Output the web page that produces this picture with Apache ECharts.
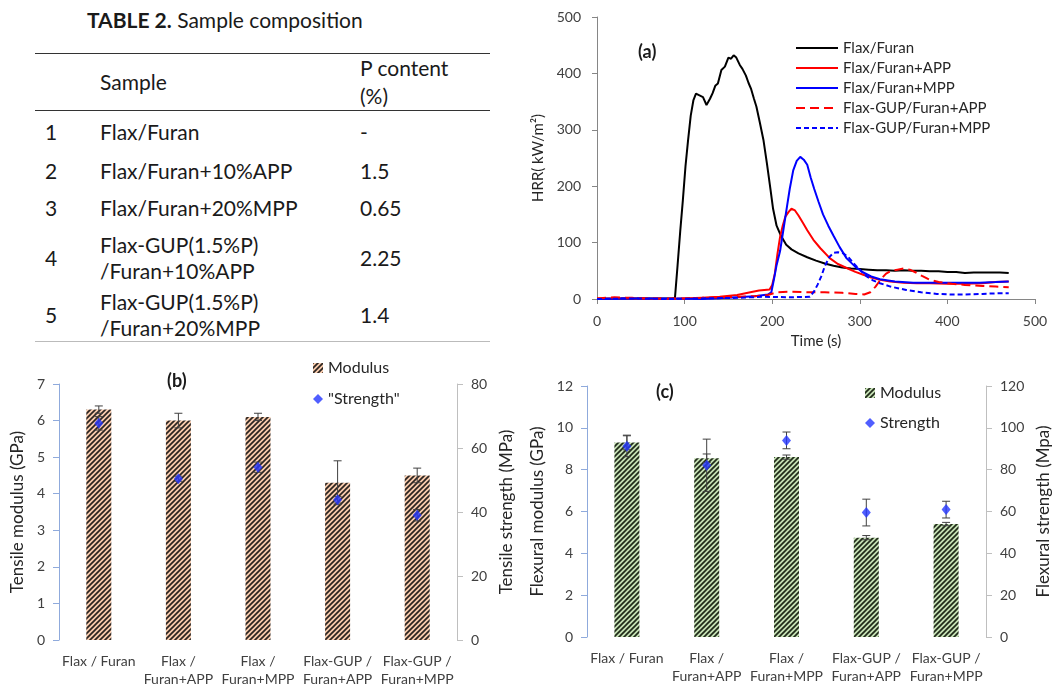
<!DOCTYPE html>
<html>

<head>
  <meta charset="utf-8">
  <title>Flax / Furan composites</title>
  <script src="https://cdn.jsdelivr.net/npm/echarts@6/dist/echarts.min.js"></script>
  <style>
    body { margin: 0; background: #fff; font-family: Lato, sans-serif; }
    .box { position: absolute; }
    #tableTitle { position: absolute; left: 87px; top: 7px; font-size: 21px; color: #1a1a1a; white-space: nowrap; }
    #comp { position: absolute; left: 35px; top: 53px; width: 455px; border-collapse: collapse; font-size: 21px; color: #1a1a1a; }
    #comp td { padding: 0; vertical-align: middle; line-height: 26px; white-space: pre; }
    #comp thead td { line-height: 28px; }
    #comp thead tr { border-top: 1.5px solid #333; border-bottom: 1.5px solid #333; }
    #comp tbody tr:last-child { border-bottom: 1px solid #bbb; }
  </style>
</head>

<body>
  <div class="box" style="left:0;top:0;width:500px;height:345px">
    <div id="tableTitle"><b>TABLE 2.</b> Sample composition</div>
    <table id="comp">
      <colgroup><col style="width:65px"><col style="width:260px"><col style="width:130px"></colgroup>
      <thead><tr style="height:57px"><td></td><td>Sample</td><td>P content<br>(%)</td></tr></thead>
      <tbody id="compBody"></tbody>
    </table>
  </div>
  <div id="a" class="box" style="left:520px;top:0;width:532px;height:350px"></div>
  <div id="b" class="box" style="left:0;top:355px;width:526px;height:329px"></div>
  <div id="c" class="box" style="left:526px;top:355px;width:526px;height:329px"></div>

  <script type="text/javascript">
    // ---- table 2 ----
    var tableNo = ['1', '2', '3', '4', '5'];
    var tableSample = ['Flax/Furan', 'Flax/Furan+10%APP', 'Flax/Furan+20%MPP',
      'Flax-GUP(1.5%P)\n/Furan+10%APP', 'Flax-GUP(1.5%P)\n/Furan+20%MPP'];
    var tablePContent = ['-', '1.5', '0.65', '2.25', '1.4'];

    // ---- (a) heat release rate curves ----
    var furanT = [0, 30, 60, 85, 89, 92, 95, 98, 101, 104, 107, 110, 113, 117, 121, 125, 129, 132, 135, 138, 142, 146, 150, 153, 156, 159, 163, 166, 170, 173, 176, 179, 182, 186, 190, 194, 198, 201, 205, 210, 216, 222, 230, 240, 250, 260, 270, 280, 290, 300, 310, 320, 330, 340, 350, 360, 370, 380, 390, 400, 410, 420, 430, 440, 450, 460, 470];
    var furanV = [0, 1, 1, 1, 2, 60, 120, 175, 235, 282, 325, 352, 364, 361, 358, 344, 355, 365, 378, 382, 406, 412, 428, 426, 432, 428, 415, 408, 396, 383, 372, 356, 341, 312, 282, 240, 195, 160, 130, 112, 96, 88, 81, 74, 68, 63, 59, 56, 54, 53, 52, 51, 51, 50, 51, 50, 50, 49, 49, 48, 48, 46, 47, 47, 47, 47, 46];

    var appT = [0, 40, 80, 120, 140, 160, 175, 185, 197, 200, 203, 206, 209, 212, 215, 219, 222, 226, 230, 235, 240, 247, 255, 266, 275, 285, 295, 304, 313, 323, 335, 350, 365, 380, 400, 420, 440, 455, 470];
    var appV = [1, 1, 0, 2, 4, 7, 12, 15, 17, 25, 45, 80, 110, 130, 146, 155, 160, 157, 148, 135, 122, 105, 90, 72, 62, 55, 48, 43, 38, 34, 31, 29, 28, 28, 27, 27, 28, 30, 31];

    var mppT = [0, 40, 80, 120, 150, 180, 195, 199, 202, 205, 209, 213, 217, 220, 224, 228, 232, 236, 240, 244, 248, 253, 258, 264, 270, 277, 285, 295, 304, 313, 323, 340, 361, 380, 400, 420, 437, 455, 470];
    var mppV = [0, 1, 1, 0, 2, 5, 8, 12, 35, 60, 85, 125, 165, 195, 228, 245, 252, 247, 238, 215, 195, 172, 150, 130, 112, 92, 72, 57, 47, 40, 35, 31, 29, 29, 29, 29, 29, 30, 31];

    var gupAppT = [0, 20, 40, 60, 80, 100, 120, 140, 160, 180, 195, 205, 220, 240, 260, 280, 295, 305, 312, 318, 324, 330, 336, 343, 350, 357, 364, 371, 380, 390, 405, 420, 440, 455, 470];
    var gupAppV = [1, 3, 2, 1, 1, 1, 2, 3, 4, 5, 7, 12, 13, 12, 12, 11, 9, 8, 12, 22, 35, 45, 50, 52, 54, 52, 47, 41, 34, 30, 27, 25, 23, 22, 21];

    var gupMppT = [0, 40, 80, 120, 160, 190, 220, 243, 248, 252, 256, 260, 265, 270, 275, 281, 287, 293, 300, 308, 315, 323, 335, 353, 370, 388, 405, 418, 440, 455, 470];
    var gupMppV = [0, 1, 0, 1, 2, 4, 3, 4, 14, 26, 40, 58, 74, 82, 83, 81, 74, 63, 52, 40, 33, 28, 22, 16, 12, 9, 8, 8, 9, 10, 10];

    // ---- (b) tensile, (c) flexural ----
    var categories = ['Flax / Furan', 'Flax /\nFuran+APP', 'Flax /\nFuran+MPP', 'Flax-GUP /\nFuran+APP', 'Flax-GUP /\nFuran+MPP'];
    var tensileModulus = [6.3, 6.0, 6.1, 4.3, 4.5];
    var tensileModulusErr = [0.1, 0.2, 0.1, 0.6, 0.2];
    var tensileStrength = [67.7, 50.4, 54.0, 43.8, 39.0];
    var tensileStrengthErr = [2.1, 0.8, 1.6, 1.0, 1.8];
    var flexModulus = [9.3, 8.55, 8.6, 4.75, 5.4];
    var flexModulusErr = [0.35, 0.2, 0.1, 0.1, 0.08];
    var flexStrength = [91.2, 82.1, 94.0, 59.5, 60.9];
    var flexStrengthErr = [5, 12.5, 4, 6.4, 4];

    // build table rows
    var rowHeights = [42, 36, 38, 62, 52];
    var body = document.getElementById('compBody');
    tableNo.forEach(function (n, i) {
      var tr = document.createElement('tr');
      tr.style.height = rowHeights[i] + 'px';
      [n, tableSample[i], tablePContent[i]].forEach(function (t, j) {
        var td = document.createElement('td');
        td.textContent = t;
        if (j === 0) td.style.paddingLeft = '10px';
        tr.appendChild(td);
      });
      body.appendChild(tr);
    });

    var FONT = 'Lato';
    var TICK = '#404040';
    var NAME = '#262626';

    function pairs(t, v) {
      return t.map(function (x, i) { return [x, v[i]]; });
    }

    function hatch(bg, fg) {
      var c = document.createElement('canvas');
      c.width = 5; c.height = 5;
      var g = c.getContext('2d');
      g.fillStyle = bg;
      g.fillRect(0, 0, 5, 5);
      g.strokeStyle = fg;
      g.lineWidth = 1.7;
      g.beginPath();
      g.moveTo(0, 5); g.lineTo(5, 0);
      g.moveTo(-1, 1); g.lineTo(1, -1);
      g.moveTo(4, 6); g.lineTo(6, 4);
      g.stroke();
      return { image: c, repeat: 'repeat' };
    }

    function errRender(params, api) {
      var i = api.value(0), v = api.value(1), e = api.value(2);
      var hi = api.coord([i, v + e]), lo = api.coord([i, v - e]);
      var st = { stroke: '#404040', lineWidth: 1 };
      return {
        type: 'group', children: [
          { type: 'line', shape: { x1: hi[0], y1: hi[1], x2: lo[0], y2: lo[1] }, style: st },
          { type: 'line', shape: { x1: hi[0] - 4, y1: hi[1], x2: hi[0] + 4, y2: hi[1] }, style: st },
          { type: 'line', shape: { x1: lo[0] - 4, y1: lo[1], x2: lo[0] + 4, y2: lo[1] }, style: st }
        ]
      };
    }

    function errData(vals, errs) {
      return vals.map(function (v, i) { return [i, v, errs[i]]; });
    }

    // ---------- chart (a) ----------
    var chartA = echarts.init(document.getElementById('a'));
    var axisA = { color: '#868686' };
    chartA.setOption({
      animation: false,
      textStyle: { fontFamily: FONT },
      title: { text: '(a)', left: 118, top: 43, padding: 0, textStyle: { fontSize: 18, fontWeight: 'bold', color: '#1a1a1a', fontFamily: FONT } },
      legend: {
        orient: 'vertical', left: 275, top: 40, padding: 0,
        itemWidth: 42, itemHeight: 10, itemGap: 4,
        itemStyle: { opacity: 0 },
        textStyle: { fontSize: 15, lineHeight: 16, color: NAME, fontFamily: FONT }
      },
      grid: { left: 77, top: 17, width: 438, height: 282, containLabel: false, outerBoundsMode: 'none' },
      xAxis: {
        type: 'value', min: 0, max: 500, interval: 100,
        name: 'Time (s)', nameLocation: 'middle', nameGap: 35,
        nameTextStyle: { fontSize: 15, color: NAME },
        axisLine: { lineStyle: axisA }, axisTick: { length: 5, lineStyle: axisA },
        axisLabel: { fontSize: 14, color: TICK, margin: 15 },
        splitLine: { show: false }
      },
      yAxis: {
        type: 'value', min: 0, max: 500, interval: 100,
        name: 'HRR( kW/m²)', nameLocation: 'middle', nameGap: 48,
        nameTextStyle: { fontSize: 15, color: NAME },
        axisLine: { show: true, lineStyle: axisA }, axisTick: { show: true, length: 5, lineStyle: axisA },
        axisLabel: { fontSize: 14, color: TICK, margin: 16 },
        splitLine: { show: false }
      },
      series: [
        { name: 'Flax/Furan', type: 'line', symbol: 'none', data: pairs(furanT, furanV), lineStyle: { color: '#000', width: 2 }, itemStyle: { color: '#000' } },
        { name: 'Flax/Furan+APP', type: 'line', symbol: 'none', data: pairs(appT, appV), lineStyle: { color: '#ff0000', width: 2 }, itemStyle: { color: '#ff0000' } },
        { name: 'Flax/Furan+MPP', type: 'line', symbol: 'none', data: pairs(mppT, mppV), lineStyle: { color: '#0000ff', width: 2 }, itemStyle: { color: '#0000ff' } },
        { name: 'Flax-GUP/Furan+APP', type: 'line', symbol: 'none', data: pairs(gupAppT, gupAppV), lineStyle: { color: '#ff0000', width: 2, type: [9, 5] }, itemStyle: { color: '#ff0000' } },
        { name: 'Flax-GUP/Furan+MPP', type: 'line', symbol: 'none', data: pairs(gupMppT, gupMppV), lineStyle: { color: '#0000ff', width: 2, type: [5, 3] }, itemStyle: { color: '#0000ff' } }
      ]
    });

    // ---------- bar panels (b) and (c) ----------
    function barPanel(el, cfg) {
      var chart = echarts.init(el);
      var blue = { color: '#8faadc' };
      var grey = { color: '#bfbfbf' };
      chart.setOption({
        animation: false,
        textStyle: { fontFamily: FONT },
        title: { text: cfg.title, left: cfg.titleLeft, top: cfg.titleTop, padding: 0, textStyle: { fontSize: 18, fontWeight: 'bold', color: '#1a1a1a', fontFamily: FONT } },
        legend: {
          orient: 'vertical', left: cfg.legendLeft, top: cfg.legendTop, padding: 0,
          itemWidth: 10, itemHeight: 10, itemGap: cfg.legendGap,
          textStyle: { fontSize: 16, lineHeight: 16, color: NAME, fontFamily: FONT },
          data: [{ name: 'Modulus', icon: 'rect' }, { name: cfg.strengthName, icon: 'diamond' }]
        },
        grid: cfg.grid,
        xAxis: {
          type: 'category', data: categories,
          axisLine: { show: false }, axisTick: { show: false },
          axisLabel: { interval: 0, fontSize: 14, lineHeight: 18, color: TICK, margin: 12, verticalAlign: 'top' }
        },
        yAxis: [{
          type: 'value', min: 0, max: cfg.leftMax, interval: cfg.leftStep,
          name: cfg.leftName, nameLocation: 'middle', nameGap: cfg.leftGap,
          nameTextStyle: { fontSize: 17, color: NAME },
          axisLine: { show: true, lineStyle: blue }, axisTick: { show: true, length: 6, lineStyle: blue },
          axisLabel: { fontSize: 14, color: TICK, margin: 14 },
          splitLine: { show: false }
        }, {
          type: 'value', min: 0, max: cfg.rightMax, interval: 20, position: 'right',
          name: cfg.rightName, nameLocation: 'middle', nameGap: cfg.rightGap,
          nameTextStyle: { fontSize: 17, color: NAME },
          axisLine: { show: true, lineStyle: grey }, axisTick: { show: true, length: 6, lineStyle: grey },
          axisLabel: { fontSize: 14, color: TICK, margin: 14 },
          splitLine: { show: false }
        }],
        series: [
          { name: 'Modulus', type: 'bar', barWidth: 25, data: cfg.modulus, itemStyle: { color: cfg.fill } },
          { type: 'custom', yAxisIndex: 0, renderItem: errRender, encode: { x: 0, y: 1 }, data: errData(cfg.modulus, cfg.modulusErr), z: 3 },
          { type: 'custom', yAxisIndex: 1, renderItem: errRender, encode: { x: 0, y: 1 }, data: errData(cfg.strength, cfg.strengthErr), z: 3 },
          { name: cfg.strengthName, type: 'scatter', yAxisIndex: 1, symbol: 'diamond', symbolSize: [9, 11], data: cfg.strength, itemStyle: { color: '#2436ff' }, z: 4 }
        ]
      });
      return chart;
    }

    barPanel(document.getElementById('b'), {
      title: '(b)', titleLeft: 167, titleTop: 17,
      legendLeft: 313, legendTop: 5, legendGap: 15, strengthName: '"Strength"',
      grid: { left: 59, top: 29, width: 398, height: 256, containLabel: false, outerBoundsMode: 'none' },
      leftMax: 7, leftStep: 1, rightMax: 80,
      leftName: 'Tensile modulus (GPa)', leftGap: 29,
      rightName: 'Tensile strength (MPa)', rightGap: 38,
      modulus: tensileModulus, modulusErr: tensileModulusErr,
      strength: tensileStrength, strengthErr: tensileStrengthErr,
      fill: hatch('#f8cbad', '#2b2420')
    });

    barPanel(document.getElementById('c'), {
      title: '(c)', titleLeft: 130, titleTop: 28,
      legendLeft: 339, legendTop: 30, legendGap: 14, strengthName: 'Strength',
      grid: { left: 61, top: 31, width: 399, height: 251, containLabel: false, outerBoundsMode: 'none' },
      leftMax: 12, leftStep: 2, rightMax: 120,
      leftName: 'Flexural modulus (GPa)', leftGap: 32,
      rightName: 'Flexural strength (Mpa)', rightGap: 47,
      modulus: flexModulus, modulusErr: flexModulusErr,
      strength: flexStrength, strengthErr: flexStrengthErr,
      fill: hatch('#c5e0b4', '#1f2a18')
    });
  </script>
</body>

</html>
